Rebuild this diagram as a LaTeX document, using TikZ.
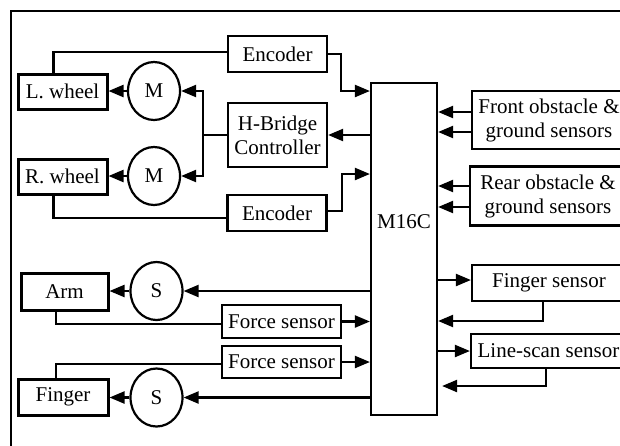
\documentclass[tikz,border=0pt]{standalone}
\usepackage{fontspec}
\setmainfont{Liberation Serif}
\usetikzlibrary{arrows.meta,shapes.geometric}

\tikzset{
  blk/.style={draw, line width=2.2pt, inner sep=1pt, align=center},
  part/.style={draw, line width=3pt, inner sep=1pt},
  act/.style={draw, ellipse, line width=2.2pt, minimum width=52pt,
    minimum height=58pt, inner sep=0pt},
  wire/.style={line width=2.2pt},
  sig/.style={wire, -{Triangle[length=15pt,width=12pt]}},
}

\begin{document}
\begin{tikzpicture}[x=1pt, y=-1pt, font=\fontsize{21}{24}\selectfont]
  \useasboundingbox (0,0) rectangle (620,445);

  % -- outer frame, runs off the right and bottom edges --
  \draw[line width=2.2pt] (11,470) -- (11,11) -- (650,11);

  % -- controller --
  \node[blk, minimum width=66pt, minimum height=332pt] (m16c) at (404,249) {};
  \node (m16ctxt) at (404,222) {M16C};

  % -- drive: wheels, motors, H-bridge, encoders --
  \node[blk, minimum width=99pt, minimum height=36pt] (encL) at (277.5,54) {Encoder};
  \node[blk, minimum width=99pt, minimum height=64pt] (hbr) at (277.5,135) {H-Bridge\\Controller};
  \node[blk, minimum width=99pt, minimum height=36pt] (encR) at (277,213) {Encoder};
  \node[part, minimum width=89pt, minimum height=35pt] (lwheel) at (62.5,91.5) {L. wheel};
  \node[part, minimum width=89pt, minimum height=35pt] (rwheel) at (62.5,176.5) {R. wheel};
  \node[act] (motL) at (154,91) {M};
  \node[act] (motR) at (154,176) {M};
  \coordinate (bus) at (203,134);

  \draw[sig] (motL.west) -- (lwheel.east |- motL.west);
  \draw[sig] (motR.west) -- (rwheel.east |- motR.west);
  \draw[wire] (hbr.west) -- (bus |- hbr.west);
  \draw[sig] (bus |- hbr.west) |- (motL.east);
  \draw[sig] (bus |- hbr.west) |- (motR.east);
  \draw[sig] (m16c.west |- hbr.east) -- (hbr.east);

  \draw[wire] ([xshift=-9pt]lwheel.north) |- ([yshift=2pt]encL.west);
  \draw[sig] (encL.east) -- ++(13,0) |- (m16c.west |- 0,91);
  \draw[wire] ([xshift=-9pt]rwheel.south) |- ([yshift=-5pt]encR.west);
  \draw[sig] ([yshift=2pt]encR.east) -- ++(14,0) |- (m16c.west |- 0,174);

  % -- sensors on the right --
  \node[blk, minimum width=154pt, minimum height=58pt] (front) at (549,120) {Front obstacle \&\\ground sensors};
  \node[blk, minimum width=156pt, minimum height=59pt] (rear) at (548,196) {Rear obstacle \&\\ground sensors};
  \node[blk, minimum width=154pt, minimum height=36pt] (fsens) at (549,283) {Finger sensor};
  \node[blk, minimum width=155pt, minimum height=34pt] (lscan) at (548.5,351) {Line-scan sensor};

  \draw[sig] (front.west |- 0,112) -- (m16c.east |- 0,112);
  \draw[sig] (front.west |- 0,132) -- (m16c.east |- 0,132);
  \draw[sig] (rear.west |- 0,186) -- (m16c.east |- 0,186);
  \draw[sig] (rear.west |- 0,207) -- (m16c.east |- 0,207);
  \draw[sig] (m16c.east |- 0,280) -- (fsens.west |- 0,280);
  \draw[sig] (fsens.south -| 543,0) |- (m16c.east |- 0,321);
  \draw[sig] (m16c.east |- lscan.west) -- (lscan.west);
  \draw[sig] (lscan.south -| 546,0) |- ([xshift=4pt]m16c.east |- 0,386);

  % -- arm and finger with servos and force sensors --
  \node[part, minimum width=87pt, minimum height=37pt] (arm) at (64.5,291.5) {Arm};
  \node[act] (srvA) at (156.5,291) {S};
  \node[blk, minimum width=119pt, minimum height=33pt] (forceA) at (281.5,321.5) {Force sensor};
  \node[blk, minimum width=119pt, minimum height=32pt] (forceF) at (281.5,362) {Force sensor};
  \node[part, minimum width=90pt, minimum height=36pt] (finger) at (63,397) {Finger};
  \node[act] (srvF) at (156.5,397.5) {S};

  \draw[sig] (srvA.west) -- (arm.east |- srvA.west);
  \draw[sig] (m16c.west |- srvA.east) -- (srvA.east);
  \draw[wire] (arm.south -| 56,0) |- ([yshift=-2.5pt]forceA.west);
  \draw[sig] (forceA.east) -- (m16c.west |- forceA.east);
  \draw[wire] (finger.north -| 56,0) |- ([yshift=-2pt]forceF.west);
  \draw[sig] (forceF.east) -- (m16c.west |- forceF.east);
  \draw[sig] (srvF.west) -- (finger.east |- srvF.west);
  \draw[sig] (m16c.west |- srvF.east) -- (srvF.east);
\end{tikzpicture}
\end{document}
